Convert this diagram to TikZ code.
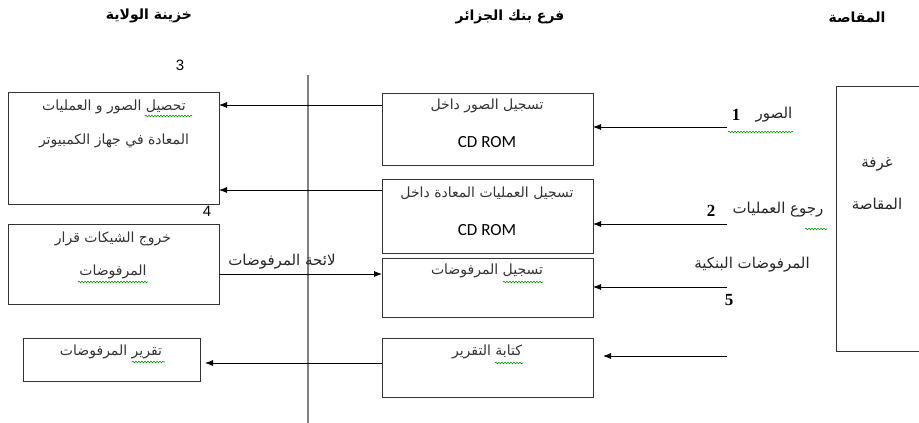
\documentclass[tikz,border=0pt]{standalone}
\usepackage{fontspec}
\usetikzlibrary{arrows.meta,decorations.pathmorphing}
\TeXXeTstate=1
\newfontfamily\arabicfont[Script=Arabic]{DejaVu Sans}
\newfontfamily\latinsans{Liberation Sans}
\newfontfamily\cdfont{Carlito}
\newfontfamily\numserif{Liberation Serif}
\newcommand{\ar}[1]{{\arabicfont\beginR #1\endR}}
\begin{document}
\begin{tikzpicture}[x=1pt,y=-1pt,
  box/.style={draw=black!80,line width=0.9pt},
  flow/.style={draw=black,line width=0.8pt,-{Latex[length=8pt,width=6pt]}},
  divider/.style={draw=black!50,line width=1.1pt},
  boxtext/.style={font=\fontsize{14}{16}\selectfont,text=black!80,inner sep=0pt},
  headtext/.style={font=\fontsize{14}{16}\selectfont\bfseries,inner sep=0pt},
  labeltext/.style={font=\fontsize{15}{17}\selectfont,text=black!85,inner sep=0pt},
  cdtext/.style={font=\cdfont\fontsize{17}{19}\selectfont,inner sep=0pt},
  numsans/.style={font=\latinsans\fontsize{15}{17}\selectfont,inner sep=0pt},
  numbold/.style={font=\numserif\bfseries\fontsize{17}{19}\selectfont,inner sep=0pt},
  squiggle/.style={draw=green!60!black,line width=0.6pt,decorate,
    decoration={snake,amplitude=0.8pt,segment length=3pt}}]
\useasboundingbox (0,0) rectangle (919,423);

% column headings
\node[headtext] (hleft) at (149,16) {\ar{خزينة الولاية}};
\node[headtext] (hmid) at (510,17) {\ar{فرع بنك الجزائر}};
\node[headtext] (hright) at (857,17) {\ar{المقاصة}};

% dividing line
\coordinate (vtop) at (308,75);
\coordinate (vbot) at (308,423);
\draw[divider] (vtop) -- (vbot);

% left column boxes
\draw[box] (8,92) rectangle (219,204);
\coordinate (aIn1) at (219,105);
\coordinate (aIn2) at (219,190);
\node[boxtext] (atxt1) at (114,107) {\ar{تحصيل الصور و العمليات}};
\node[boxtext] (atxt2) at (114,141) {\ar{المعادة في جهاز الكمبيوتر}};
\node[numsans] (n3) at (180,65) {3};

\draw[box] (8,224) rectangle (219,304);
\coordinate (bOut) at (219,274);
\node[boxtext] (btxt1) at (113,239) {\ar{خروج الشيكات قرار}};
\node[boxtext] (btxt2) at (113,272) {\ar{المرفوضات}};
\node[numsans] (n4) at (207,211) {4};

\draw[box] (23,338) rectangle (200,381);
\coordinate (cIn) at (205,363);
\node[boxtext] (ctxt) at (111,352) {\ar{تقرير المرفوضات}};

% middle column boxes
\draw[box] (382,93) rectangle (593,165);
\coordinate (m1L) at (382,105);
\coordinate (m1R) at (593,127);
\node[boxtext] (m1txt) at (487,106) {\ar{تسجيل الصور داخل}};
\node[cdtext] (m1cd) at (487,142) {CD ROM};

\draw[box] (382,179) rectangle (593,253);
\coordinate (m2L) at (382,190);
\coordinate (m2R) at (593,224);
\node[boxtext] (m2txt) at (487,193) {\ar{تسجيل العمليات المعادة  داخل}};
\node[cdtext] (m2cd) at (487,230) {CD ROM};

\draw[box] (382,258) rectangle (593,317);
\coordinate (m3L) at (382,274);
\coordinate (m3R) at (593,287);
\node[boxtext] (m3txt) at (487,271) {\ar{تسجيل المرفوضات}};

\draw[box] (382,338) rectangle (593,397);
\coordinate (m4L) at (382,363);
\coordinate (m4R) at (603,356);
\node[boxtext] (m4txt) at (487,352) {\ar{كتابة التقرير}};

% clearing room box, running past the right edge
\draw[box] (925,86) -- (836,86) -- (836,351) -- (925,351);
\node[labeltext] (rtxt1) at (877,164) {\ar{غرفة}};
\node[labeltext] (rtxt2) at (877,204) {\ar{المقاصة}};

% incoming flows from the clearing room
\coordinate (r1) at (727,127);
\coordinate (r2) at (727,224);
\coordinate (r3) at (727,287);
\coordinate (r4) at (727,356);
\draw[flow] (r1) -- (m1R);
\draw[flow] (r2) -- (m2R);
\draw[flow] (r3) -- (m3R);
\draw[flow] (r4) -- (m4R);
\node[labeltext] (l1) at (774,115) {\ar{الصور}};
\node[numbold] (n1) at (736,115) {1};
\node[labeltext] (l2) at (778,210) {\ar{رجوع العمليات}};
\node[numbold] (n2) at (711,211) {2};
\node[labeltext] (l3) at (752,265) {\ar{المرفوضات البنكية}};
\node[numbold] (n5) at (729,300) {5};

% flows towards the treasury
\draw[flow] (m1L) -- (aIn1);
\draw[flow] (m2L) -- (aIn2);
\draw[flow] (m4L) -- (cIn);
\draw[flow] (bOut) -- (m3L);
\node[labeltext] (lst) at (282,262) {\ar{لائحة المرفوضات}};

% spelling marks
\draw[squiggle] (145,116) -- (192,116);
\draw[squiggle] (78,282) -- (148,282);
\draw[squiggle] (132,362) -- (165,362);
\draw[squiggle] (503,282) -- (543,282);
\draw[squiggle] (495,363) -- (523,363);
\draw[squiggle] (728,132) -- (793,132);
\draw[squiggle] (805,229) -- (827,229);
\end{tikzpicture}
\end{document}
